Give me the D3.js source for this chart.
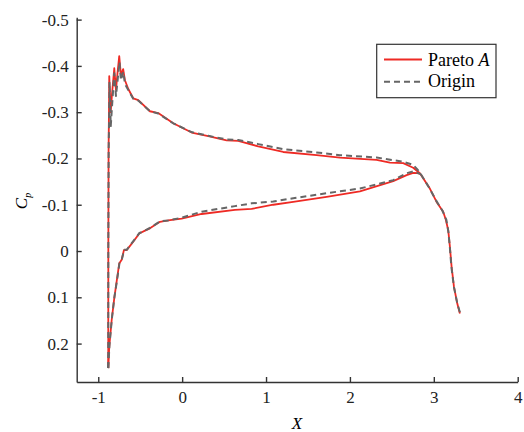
<!DOCTYPE html>
<html>
<head>
<meta charset="utf-8">
<script src="https://cdn.jsdelivr.net/npm/d3@7"></script>
<style>
  body { margin: 0; background: #fff; }
  svg { display: block; font-family: "Liberation Serif", "DejaVu Serif", serif; }
  .axis path, .axis line { stroke: #333; stroke-width: 1.4; }
  .axis text { font-size: 17px; fill: #222; font-family: "Liberation Serif", serif; }
</style>
</head>
<body>
<div id="chart"></div>
<script>
// chart data, [X, Cp]
const paretoUpper = [
  [-0.881, 0.253], [-0.880, -0.002], [-0.877, -0.218], [-0.872, -0.305], [-0.869, -0.378],
  [-0.852, -0.300], [-0.837, -0.337], [-0.809, -0.395], [-0.789, -0.348], [-0.771, -0.384],
  [-0.750, -0.421], [-0.730, -0.380], [-0.703, -0.393], [-0.682, -0.369], [-0.642, -0.350],
  [-0.583, -0.330], [-0.523, -0.326], [-0.384, -0.302], [-0.285, -0.298], [-0.106, -0.276],
  [0.113, -0.256], [0.311, -0.248], [0.530, -0.239], [0.669, -0.238], [0.907, -0.226],
  [1.205, -0.214], [1.603, -0.207], [1.881, -0.202], [2.318, -0.197], [2.477, -0.191],
  [2.635, -0.190], [2.754, -0.180], [2.834, -0.168], [2.953, -0.135], [3.033, -0.106],
  [3.112, -0.085], [3.144, -0.067], [3.172, -0.045], [3.192, -0.009], [3.212, 0.034],
  [3.240, 0.077], [3.279, 0.113], [3.311, 0.135]
];
const paretoLower = [
  [-0.881, 0.253], [-0.869, 0.207], [-0.840, 0.149], [-0.809, 0.102], [-0.781, 0.066],
  [-0.750, 0.027], [-0.721, 0.019], [-0.694, -0.002], [-0.662, -0.002], [-0.631, -0.009],
  [-0.583, -0.020], [-0.511, -0.038], [-0.443, -0.044], [-0.384, -0.049], [-0.265, -0.063],
  [-0.166, -0.066], [-0.006, -0.070], [0.232, -0.080], [0.629, -0.089], [0.828, -0.091],
  [1.086, -0.100], [1.324, -0.106], [1.722, -0.117], [2.119, -0.129], [2.516, -0.151],
  [2.676, -0.164], [2.754, -0.169], [2.834, -0.168]
];
const originUpper = [
  [-0.881, 0.253], [-0.880, -0.002], [-0.876, -0.218], [-0.870, -0.294], [-0.866, -0.365],
  [-0.851, -0.270], [-0.834, -0.318], [-0.809, -0.384], [-0.789, -0.335], [-0.769, -0.369],
  [-0.747, -0.408], [-0.730, -0.369], [-0.701, -0.387], [-0.682, -0.361], [-0.642, -0.348],
  [-0.583, -0.329], [-0.523, -0.325], [-0.384, -0.302], [-0.285, -0.297], [-0.106, -0.276],
  [0.113, -0.257], [0.311, -0.249], [0.530, -0.241], [0.669, -0.240], [0.907, -0.231],
  [1.205, -0.220], [1.603, -0.213], [1.881, -0.207], [2.318, -0.202], [2.635, -0.193],
  [2.754, -0.186], [2.810, -0.175], [2.846, -0.166], [2.941, -0.138], [3.025, -0.110],
  [3.103, -0.087], [3.150, -0.067], [3.174, -0.041], [3.192, -0.006], [3.210, 0.035],
  [3.240, 0.078], [3.281, 0.114], [3.317, 0.136]
];
const originLower = [
  [-0.881, 0.253], [-0.866, 0.203], [-0.837, 0.145], [-0.807, 0.099], [-0.777, 0.064],
  [-0.747, 0.026], [-0.718, 0.017], [-0.690, -0.003], [-0.658, -0.003], [-0.628, -0.011],
  [-0.580, -0.022], [-0.509, -0.039], [-0.443, -0.044], [-0.384, -0.050], [-0.265, -0.064],
  [-0.166, -0.066], [-0.006, -0.072], [0.232, -0.085], [0.629, -0.097], [0.828, -0.103],
  [1.086, -0.107], [1.324, -0.114], [1.722, -0.125], [2.119, -0.135], [2.516, -0.153],
  [2.676, -0.168], [2.754, -0.172], [2.846, -0.166]
];
const xTicks = [-1, 0, 1, 2, 3, 4];
const yTicks = [-0.5, -0.4, -0.3, -0.2, -0.1, 0, 0.1, 0.2];
const legendLabels = ["Pareto ", "Origin"];

const width = 524;
const height = 432;

const x = d3.scaleLinear().domain([-1.257, 4]).range([76.7, 517.7]);
const y = d3.scaleLinear().domain([-0.505, 0.283]).range([17.3, 382]);

const svg = d3.select("#chart")
  .append("svg")
  .attr("width", width)
  .attr("height", height)
  .attr("viewBox", [0, 0, width, height]);

// axes, ticks point inwards
svg.append("g")
  .attr("class", "axis")
  .attr("transform", `translate(0,${y.range()[1]})`)
  .call(d3.axisBottom(x)
    .tickValues(xTicks)
    .tickSizeInner(-5)
    .tickSizeOuter(0)
    .tickPadding(9)
    .tickFormat(d3.format("d")))
  .call(g => g.selectAll("text").text(d => d < 0 ? "-" + Math.abs(d) : d));

svg.append("g")
  .attr("class", "axis")
  .attr("transform", `translate(${x.range()[0]},0)`)
  .call(d3.axisLeft(y)
    .tickValues(yTicks)
    .tickSizeInner(-5)
    .tickSizeOuter(0)
    .tickPadding(8))
  .call(g => g.selectAll("text").text(d => d === 0 ? "0" : (d < 0 ? "-" : "") + Math.abs(d).toFixed(1)));

// axis titles
svg.append("text")
  .attr("x", 297)
  .attr("y", 429)
  .attr("text-anchor", "middle")
  .style("font-size", "17px")
  .style("font-style", "italic")
  .text("X");

const cpLabel = svg.append("text")
  .attr("transform", "translate(27,201) rotate(-90)")
  .attr("text-anchor", "middle")
  .style("font-size", "17px")
  .style("font-style", "italic");
cpLabel.append("tspan").text("C");
cpLabel.append("tspan").attr("dy", 4).style("font-size", "10px").text("p");

const line = d3.line()
  .x(d => x(d[0]))
  .y(d => y(d[1]));

const curves = svg.append("g").attr("fill", "none");

// Pareto A
[paretoUpper, paretoLower].forEach(data => {
  curves.append("path")
    .attr("d", line(data))
    .attr("stroke", "#ee2a24")
    .attr("stroke-width", 1.8)
    .attr("stroke-linejoin", "round");
});

// Origin, dashed on top
[originUpper, originLower].forEach(data => {
  curves.append("path")
    .attr("d", line(data))
    .attr("stroke", "#666")
    .attr("stroke-width", 2)
    .attr("stroke-dasharray", "6,4")
    .attr("stroke-linejoin", "round");
});

// legend
const legend = svg.append("g");
legend.append("rect")
  .attr("x", 376.7)
  .attr("y", 44.3)
  .attr("width", 119.3)
  .attr("height", 53.4)
  .attr("fill", "#fff")
  .attr("stroke", "#333")
  .attr("stroke-width", 1.2);

legend.append("line")
  .attr("x1", 384).attr("x2", 422)
  .attr("y1", 59.5).attr("y2", 59.5)
  .attr("stroke", "#ee2a24")
  .attr("stroke-width", 1.8);
legend.append("line")
  .attr("x1", 384).attr("x2", 422)
  .attr("y1", 81.7).attr("y2", 81.7)
  .attr("stroke", "#666")
  .attr("stroke-width", 2)
  .attr("stroke-dasharray", "6,4");

const t1 = legend.append("text")
  .attr("x", 428)
  .attr("y", 65.5)
  .style("font-size", "18px");
t1.append("tspan").text(legendLabels[0]);
t1.append("tspan").style("font-style", "italic").text("A");

legend.append("text")
  .attr("x", 428)
  .attr("y", 87)
  .style("font-size", "18px")
  .text(legendLabels[1]);
</script>
</body>
</html>
